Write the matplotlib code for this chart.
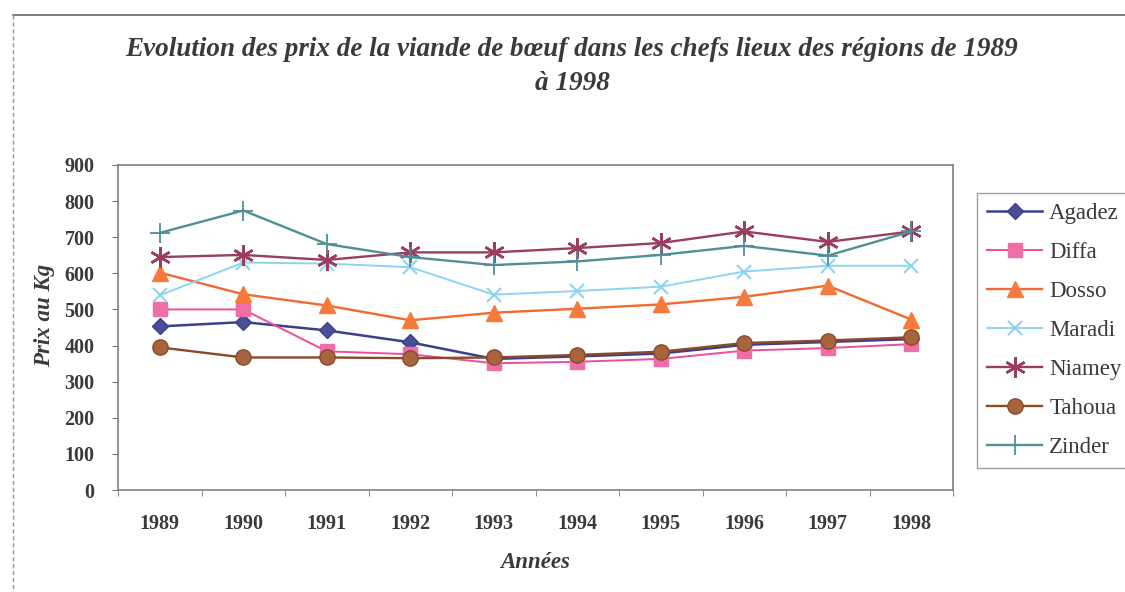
import matplotlib
matplotlib.use("Agg")
import matplotlib.pyplot as plt
from matplotlib.lines import Line2D

years = ["1989", "1990", "1991", "1992", "1993", "1994", "1995", "1996", "1997", "1998"]
agadez = [453, 465, 442, 409, 363, 370, 378, 402, 410, 418]
diffa = [500, 500, 384, 376, 351, 355, 363, 386, 393, 404]
dosso = [602, 542, 511, 470, 491, 502, 514, 535, 566, 472]
maradi = [539, 630, 627, 617, 541, 551, 563, 605, 621, 621]
niamey = [645, 651, 637, 658, 658, 670, 684, 716, 687, 716]
tahoua = [395, 367, 367, 365, 367, 374, 383, 407, 414, 423]
zinder = [712, 774, 681, 645, 623, 633, 651, 676, 649, 716]

title1 = "Evolution des prix de la viande de bœuf dans les chefs lieux des régions de 1989"
title2 = "à 1998"
xlabel = "Années"
ylabel = "Prix au Kg"
yticks = [0, 100, 200, 300, 400, 500, 600, 700, 800, 900]

plt.rcParams['font.family'] = ['Liberation Serif', 'DejaVu Serif']
txt = '#3a3a3a'

W, H = 1125, 592
fig = plt.figure(figsize=(W / 100, H / 100), dpi=100)
ax = fig.add_axes([118 / W, 1 - 490 / H, (953 - 118) / W, (490 - 165) / H])

asterisk = (6, 2, 0)
series = [
    ("Agadez", agadez, dict(color='#3b3f8c', marker='D', ms=8, mfc='#4a4e96', mec='#3b3f8c', lw=1.8)),
    ("Diffa", diffa, dict(color='#ee4d97', marker='s', ms=10, mfc='#f06ea8', mec='#f06ea8', lw=1.4)),
    ("Dosso", dosso, dict(color='#f26a30', marker='^', ms=11, mfc='#f57a3c', mec='#f57a3c', lw=1.7)),
    ("Maradi", maradi, dict(color='#8fd3f2', marker='x', ms=10, mew=1.5, lw=1.4)),
    ("Niamey", niamey, dict(color='#9a3d5e', marker=asterisk, ms=15, mew=1.8, lw=1.7)),
    ("Tahoua", tahoua, dict(color='#8a4a2a', marker='o', ms=11, mfc='#a8643e', mec='#8a4a2a', lw=1.7)),
    ("Zinder", zinder, dict(color='#4f8e9a', marker='+', ms=15, mew=1.3, lw=1.7)),
]

x = list(range(len(years)))
handles = []
for name, vals, st in series:
    ln, = ax.plot(x, vals, label=name, **st)
    handles.append(ln)

ax.set_xlim(-0.5, len(years) - 0.5)
ax.set_ylim(0, 900)
ax.set_yticks(yticks)
ax.set_yticklabels([str(v) for v in yticks], fontsize=14.5, fontweight='bold', color=txt)
ax.set_xticks(x)
ax.set_xticklabels(years, fontsize=14.5, fontweight='bold', color=txt)
ax.tick_params(axis='x', length=0, pad=17)
ax.set_xticks([i - 0.5 for i in range(len(years) + 1)], minor=True)
ax.tick_params(axis='x', which='minor', length=4, direction='out', color='#777777')
ax.tick_params(axis='y', length=4, direction='out', color='#777777', pad=13)
for s in ax.spines.values():
    s.set_color('#808080')
    s.set_linewidth(1.2)

fig.text(572 / W, 1 - 50 / H, title1,
         ha='center', va='center', fontsize=19.5, fontweight='bold', style='italic', color=txt)
fig.text(572 / W, 1 - 84 / H, title2,
         ha='center', va='center', fontsize=19.5, fontweight='bold', style='italic', color=txt)
fig.text(535 / W, 1 - 562 / H, xlabel, ha='center', va='center', fontsize=16.5,
         fontweight='bold', style='italic', color=txt)
fig.text(45 / W, 1 - 315 / H, ylabel, ha='center', va='center', rotation=90, fontsize=16.5,
         fontweight='bold', style='italic', color=txt)

leg = fig.legend(handles=handles, loc='upper left', bbox_to_anchor=(977 / W, 1 - 193 / H),
                 frameon=True, fancybox=False, fontsize=16.5, handlelength=2.4,
                 labelspacing=0.78, borderpad=0.45, handletextpad=0.3, borderaxespad=0)
leg.get_frame().set_edgecolor('#888888')
leg.get_frame().set_linewidth(1.0)
for t in leg.get_texts():
    t.set_color(txt)

fig.add_artist(Line2D([13 / W, 1.0], [1 - 15 / H, 1 - 15 / H], color='#666666', lw=1.2))
fig.add_artist(Line2D([13 / W, 13 / W], [1 - 15 / H, 0], color='#999999', lw=1.0, ls=(0, (3, 2))))

fig.savefig("out.png", dpi=100)
